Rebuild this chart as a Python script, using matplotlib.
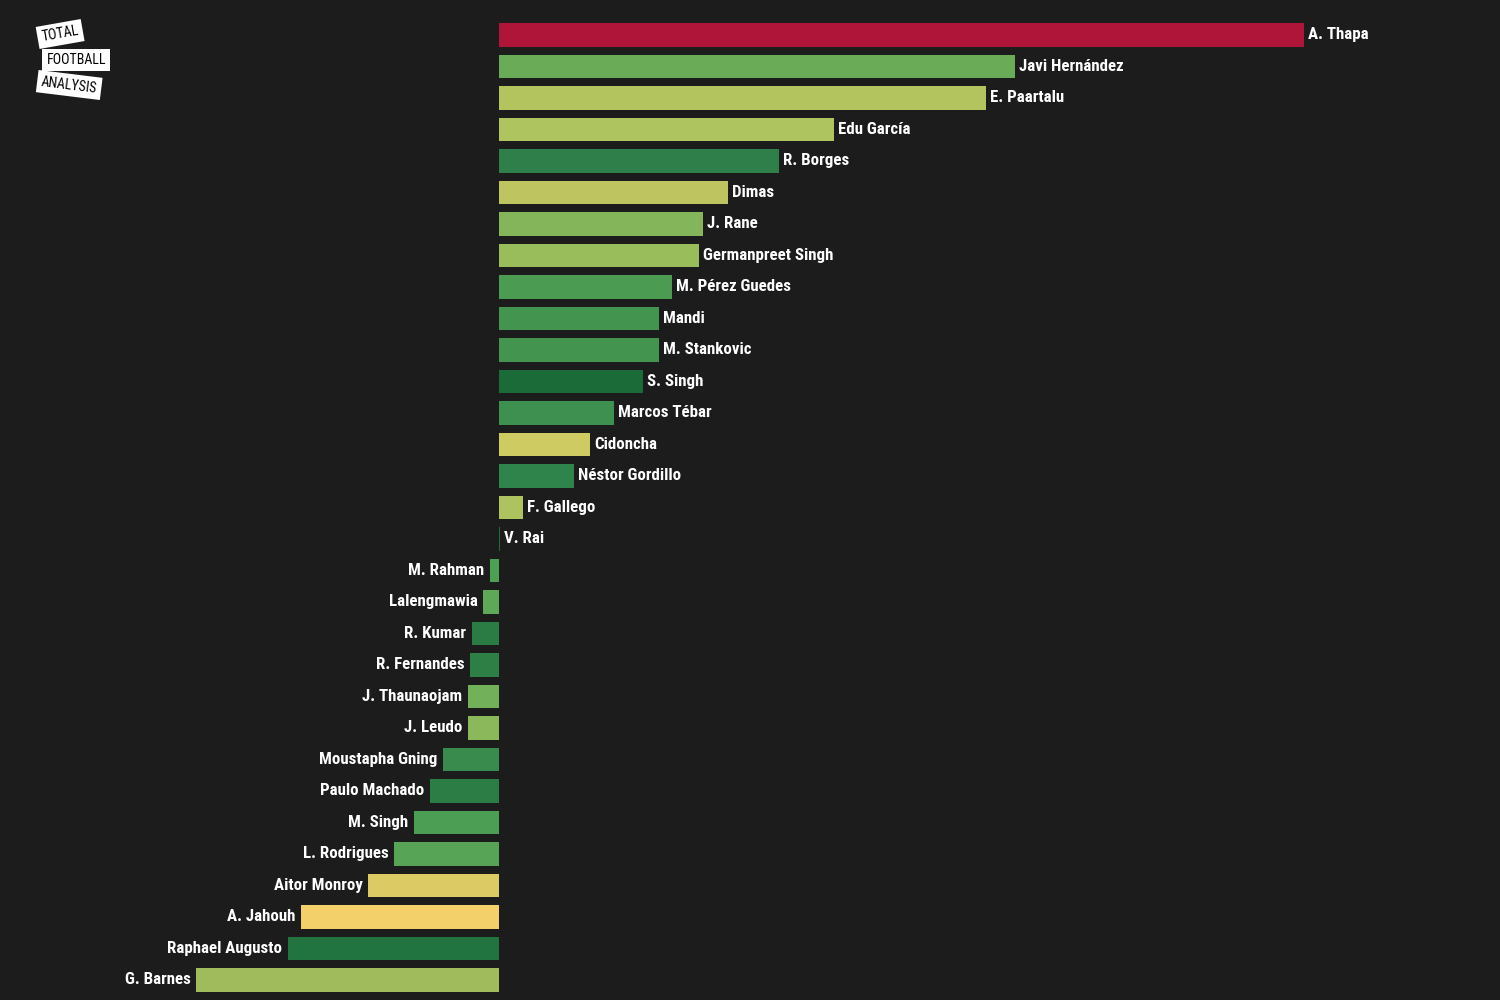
import numpy as np
import matplotlib
matplotlib.use("Agg")
from matplotlib import pyplot as plt

# players, top to bottom
players = [
    "A. Thapa", "Javi Hernández", "E. Paartalu", "Edu García", "R. Borges",
    "Dimas", "J. Rane", "Germanpreet Singh", "M. Pérez Guedes", "Mandi",
    "M. Stankovic", "S. Singh", "Marcos Tébar", "Cidoncha", "Néstor Gordillo",
    "F. Gallego", "V. Rai", "M. Rahman", "Lalengmawia", "R. Kumar",
    "R. Fernandes", "J. Thaunaojam", "J. Leudo", "Moustapha Gning",
    "Paulo Machado", "M. Singh", "L. Rodrigues", "Aitor Monroy", "A. Jahouh",
    "Raphael Augusto", "G. Barnes",
]
values = [
    8.05, 5.16, 4.87, 3.35, 2.80,
    2.29, 2.04, 2.00, 1.73, 1.60,
    1.60, 1.44, 1.15, 0.91, 0.75,
    0.24, 0.01, -0.09, -0.16, -0.27,
    -0.29, -0.31, -0.31, -0.56,
    -0.69, -0.85, -1.05, -1.31, -1.98,
    -2.11, -3.03,
]
bar_colors = [
    "#af1439", "#69ab57", "#b3c35e", "#aec45f", "#2f7f4a",
    "#bec560", "#84b55a", "#9abd5c", "#4b9b53", "#43944f",
    "#43944f", "#1a6b38", "#3d904f", "#cfcb63", "#2e844a",
    "#acc360", "#1e6e3c", "#4c9f53", "#5ea957", "#2b7c44",
    "#2d7f46", "#72b05a", "#8ab85a", "#398b4d",
    "#2c7c45", "#4c9e54", "#58a457", "#dccb64", "#f3d06a",
    "#217340", "#a0bb5b",
]

bg = "#1c1c1c"
families = ["Roboto Condensed", "Liberation Sans Narrow", "DejaVu Sans"]

fig = plt.figure(figsize=(15, 10), dpi=100, facecolor=bg)
ax = fig.add_axes([0, 0, 1, 1], facecolor=bg)

y = np.arange(len(players))
ax.barh(y, values, height=0.76, color=bar_colors)

# name labels at the bar ends
for i, (name, v) in enumerate(zip(players, values)):
    if v >= 0:
        ax.annotate(name, (v, i), xytext=(3, 0), textcoords="offset points",
                    ha="left", va="center", color="white", fontsize=12.2,
                    family=families, fontweight="bold")
    else:
        ax.annotate(name, (v, i), xytext=(-4, 0), textcoords="offset points",
                    ha="right", va="center", color="white", fontsize=12.2,
                    family=families, fontweight="bold")

ax.set_xlim(-4.99, 10.01)
ax.set_ylim(30.635, -1.111)
ax.axis("off")

# logo
logo = [("TOTAL", 0.027, 0.966, 10), ("FOOTBALL", 0.031, 0.940, 0), ("ANALYSIS", 0.027, 0.915, -7)]
for txt, lx, ly, rot in logo:
    fig.text(lx, ly, txt, fontsize=10, family=families,
             color="black", ha="left", va="center", rotation=rot,
             bbox=dict(boxstyle="square,pad=0.3", facecolor="white", edgecolor="none"))

fig.savefig("out.png", dpi=100, facecolor=bg)
